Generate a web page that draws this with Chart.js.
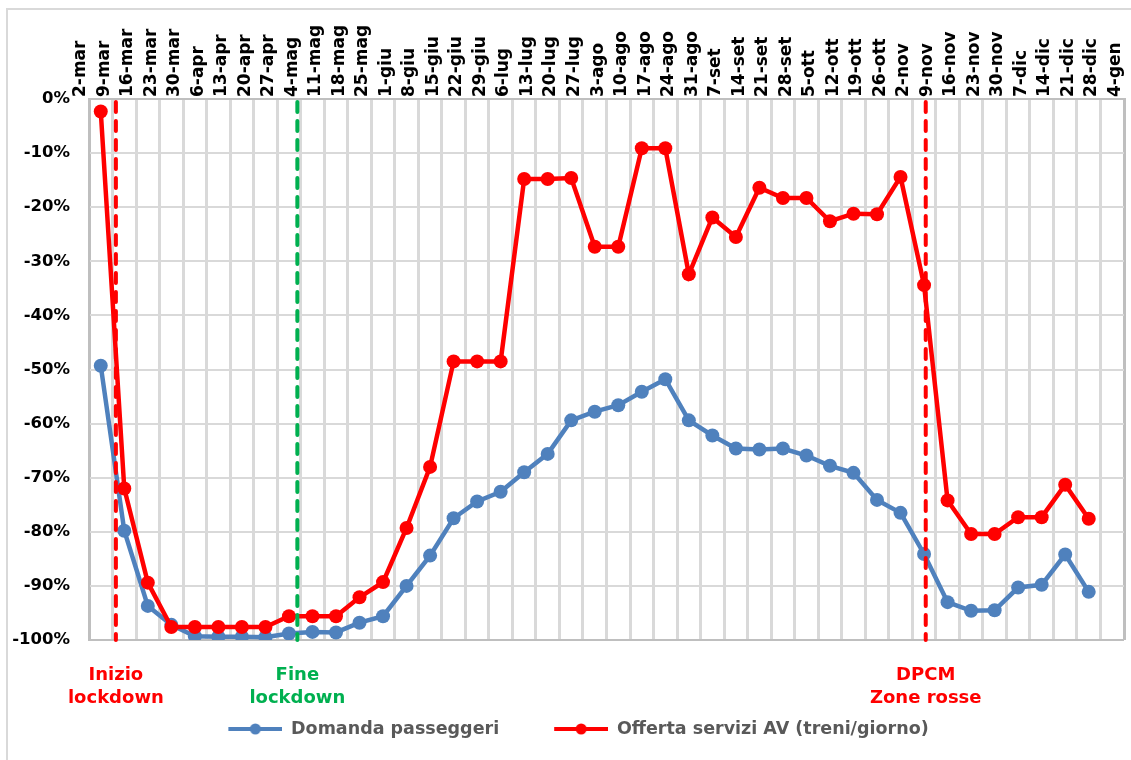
<!DOCTYPE html>
<html>
<head>
<meta charset="utf-8">
<script src="https://cdn.jsdelivr.net/npm/chart.js@4.4.1/dist/chart.umd.min.js"></script>
<style>
  html, body { margin: 0; padding: 0; background: #fff; }
</style>
</head>
<body>
<canvas id="avChart" width="1131" height="760"></canvas>
<script>
// settimane (lunedi) - l'ultima etichetta chiude l'asse
const weeks = [
  "2-mar", "9-mar", "16-mar", "23-mar", "30-mar", "6-apr", "13-apr", "20-apr", "27-apr",
  "4-mag", "11-mag", "18-mag", "25-mag", "1-giu", "8-giu", "15-giu", "22-giu", "29-giu",
  "6-lug", "13-lug", "20-lug", "27-lug", "3-ago", "10-ago", "17-ago", "24-ago", "31-ago",
  "7-set", "14-set", "21-set", "28-set", "5-ott", "12-ott", "19-ott", "26-ott",
  "2-nov", "9-nov", "16-nov", "23-nov", "30-nov", "7-dic", "14-dic", "21-dic", "28-dic", "4-gen"
];

// variazione % rispetto al 2019
const domanda = [
  -49.3, -79.8, -93.7, -97.2, -99.3, -99.4, -99.4, -99.5, -98.8, -98.5, -98.6,
  -96.8, -95.6, -90.0, -84.4, -77.5, -74.4, -72.6, -69.0, -65.6, -59.4, -57.8,
  -56.6, -54.1, -51.8, -59.4, -62.2, -64.6, -64.8, -64.6, -65.9, -67.8, -69.1,
  -74.1, -76.5, -84.1, -93.0, -94.6, -94.5, -90.3, -89.8, -84.2, -91.1
];
const offerta = [
  -2.3, -72.0, -89.4, -97.6, -97.6, -97.6, -97.6, -97.6, -95.6, -95.6, -95.6,
  -92.1, -89.3, -79.3, -68.0, -48.5, -48.5, -48.5, -14.8, -14.8, -14.6, -27.3,
  -27.3, -9.1, -9.1, -32.4, -21.9, -25.5, -16.4, -18.3, -18.3, -22.6, -21.2,
  -21.3, -14.4, -34.4, -74.2, -80.4, -80.4, -77.3, -77.3, -71.3, -77.6
];

// eventi: giorni dal 2 marzo
const eventDays = [8, 62, 249];
const eventLabels = [["Inizio", "lockdown"], ["Fine", "lockdown"], ["DPCM", "Zone rosse"]];

const FONT = "'DejaVu Sans', sans-serif";
const RED = "#ff0000";
const BLUE = "#4f81bd";
const GREEN = "#00b050";
const eventColors = [RED, GREEN, RED];

// campione di legenda: linea + punto, spostato a destra di 30px
function legendMarker(color) {
  const c = document.createElement("canvas");
  c.width = 84;
  c.height = 14;
  const g = c.getContext("2d");
  g.strokeStyle = color;
  g.lineWidth = 4;
  g.beginPath();
  g.moveTo(30, 7);
  g.lineTo(84, 7);
  g.stroke();
  g.fillStyle = color;
  g.beginPath();
  g.arc(57, 7, 5.5, 0, Math.PI * 2);
  g.fill();
  return c;
}
const markers = [legendMarker(BLUE), legendMarker(RED)];

const framePlugin = {
  id: "frame",
  beforeDraw(chart) {
    const ctx = chart.ctx;
    ctx.save();
    ctx.fillStyle = "#fff";
    ctx.fillRect(0, 0, chart.width, chart.height);
    ctx.strokeStyle = "#d9d9d9";
    ctx.lineWidth = 2;
    ctx.strokeRect(7, 9, chart.width + 20, chart.height + 20);
    ctx.restore();
  }
};

const eventsPlugin = {
  id: "events",
  afterDatasetsDraw(chart) {
    const { ctx, chartArea: a } = chart;
    const axis = chart.scales.top;
    ctx.save();
    eventDays.forEach((d, i) => {
      const x = axis.getPixelForValue(d / 7);
      ctx.strokeStyle = eventColors[i];
      ctx.lineWidth = 4;
      ctx.lineCap = "round";
      ctx.setLineDash([10, 9]);
      ctx.beginPath();
      ctx.moveTo(x, a.top + 3);
      ctx.lineTo(x, a.bottom);
      ctx.stroke();
      ctx.setLineDash([]);
      ctx.fillStyle = eventColors[i];
      ctx.font = "bold 18px " + FONT;
      ctx.textAlign = "center";
      ctx.textBaseline = "middle";
      eventLabels[i].forEach((t, j) => ctx.fillText(t, x, a.bottom + 35 + j * 23));
    });
    ctx.restore();
  }
};

new Chart(document.getElementById("avChart"), {
  type: "line",
  data: {
    labels: weeks.slice(0, weeks.length - 1),
    datasets: [
      {
        label: "Domanda passeggeri",
        data: domanda,
        borderColor: BLUE,
        backgroundColor: BLUE,
        borderWidth: 4.5,
        pointRadius: 7,
        pointHoverRadius: 7,
        pointBorderWidth: 0,
        order: 1,
      },
      {
        label: "Offerta servizi AV (treni/giorno)",
        data: offerta,
        borderColor: RED,
        backgroundColor: RED,
        borderWidth: 4.5,
        pointRadius: 7,
        pointHoverRadius: 7,
        pointBorderWidth: 0,
        order: 0,
      },
    ],
  },
  options: {
    responsive: false,
    animation: false,
    layout: { padding: { left: 0, right: 4, top: 0, bottom: 12.25 } },
    scales: {
      x: {
        type: "category",
        position: "bottom",
        offset: true,
        grid: { display: false },
        border: { display: false },
        ticks: { display: false },
        afterFit: (s) => { s.height = 55.25; },
      },
      top: {
        type: "category",
        axis: "x",
        position: "top",
        labels: weeks,
        offset: false,
        ticks: {
          autoSkip: false,
          minRotation: 90,
          maxRotation: 90,
          padding: 2,
          labelOffset: 12,
          color: "#000",
          font: { family: FONT, size: 17, weight: "bold" },
        },
        grid: {
          color: (c) => (c.index === 0 || c.index === weeks.length - 1) ? "#bfbfbf" : "#d9d9d9",
          lineWidth: 3,
          drawTicks: false,
        },
        border: { color: "#bfbfbf", width: 2 },
        afterFit: (s) => { s.height = 99; },
      },
      y: {
        min: -100,
        max: 0,
        ticks: {
          stepSize: 10,
          padding: 19,
          color: "#000",
          font: { family: FONT, size: 16.5, weight: "bold" },
          callback: (v) => v + "%",
        },
        grid: {
          color: (c) => c.tick && c.tick.value === -100 ? "#bfbfbf" : "#d9d9d9",
          lineWidth: 2,
          drawTicks: false,
        },
        border: { color: "#bfbfbf", width: 2 },
        afterFit: (s) => { s.width = 89; },
      },
    },
    plugins: {
      tooltip: { enabled: false },
      legend: {
        position: "bottom",
        labels: {
          usePointStyle: true,
          pointStyleWidth: 84,
          padding: 25,
          color: "#595959",
          font: { family: FONT, size: 17.5, weight: "bold" },
          generateLabels(c) {
            const items = Chart.defaults.plugins.legend.labels.generateLabels(c);
            items.forEach((it) => { it.pointStyle = markers[it.datasetIndex]; });
            return items.sort((a, b) => a.datasetIndex - b.datasetIndex);
          },
        },
      },
    },
  },
  plugins: [framePlugin, eventsPlugin],
});
</script>
</body>
</html>
